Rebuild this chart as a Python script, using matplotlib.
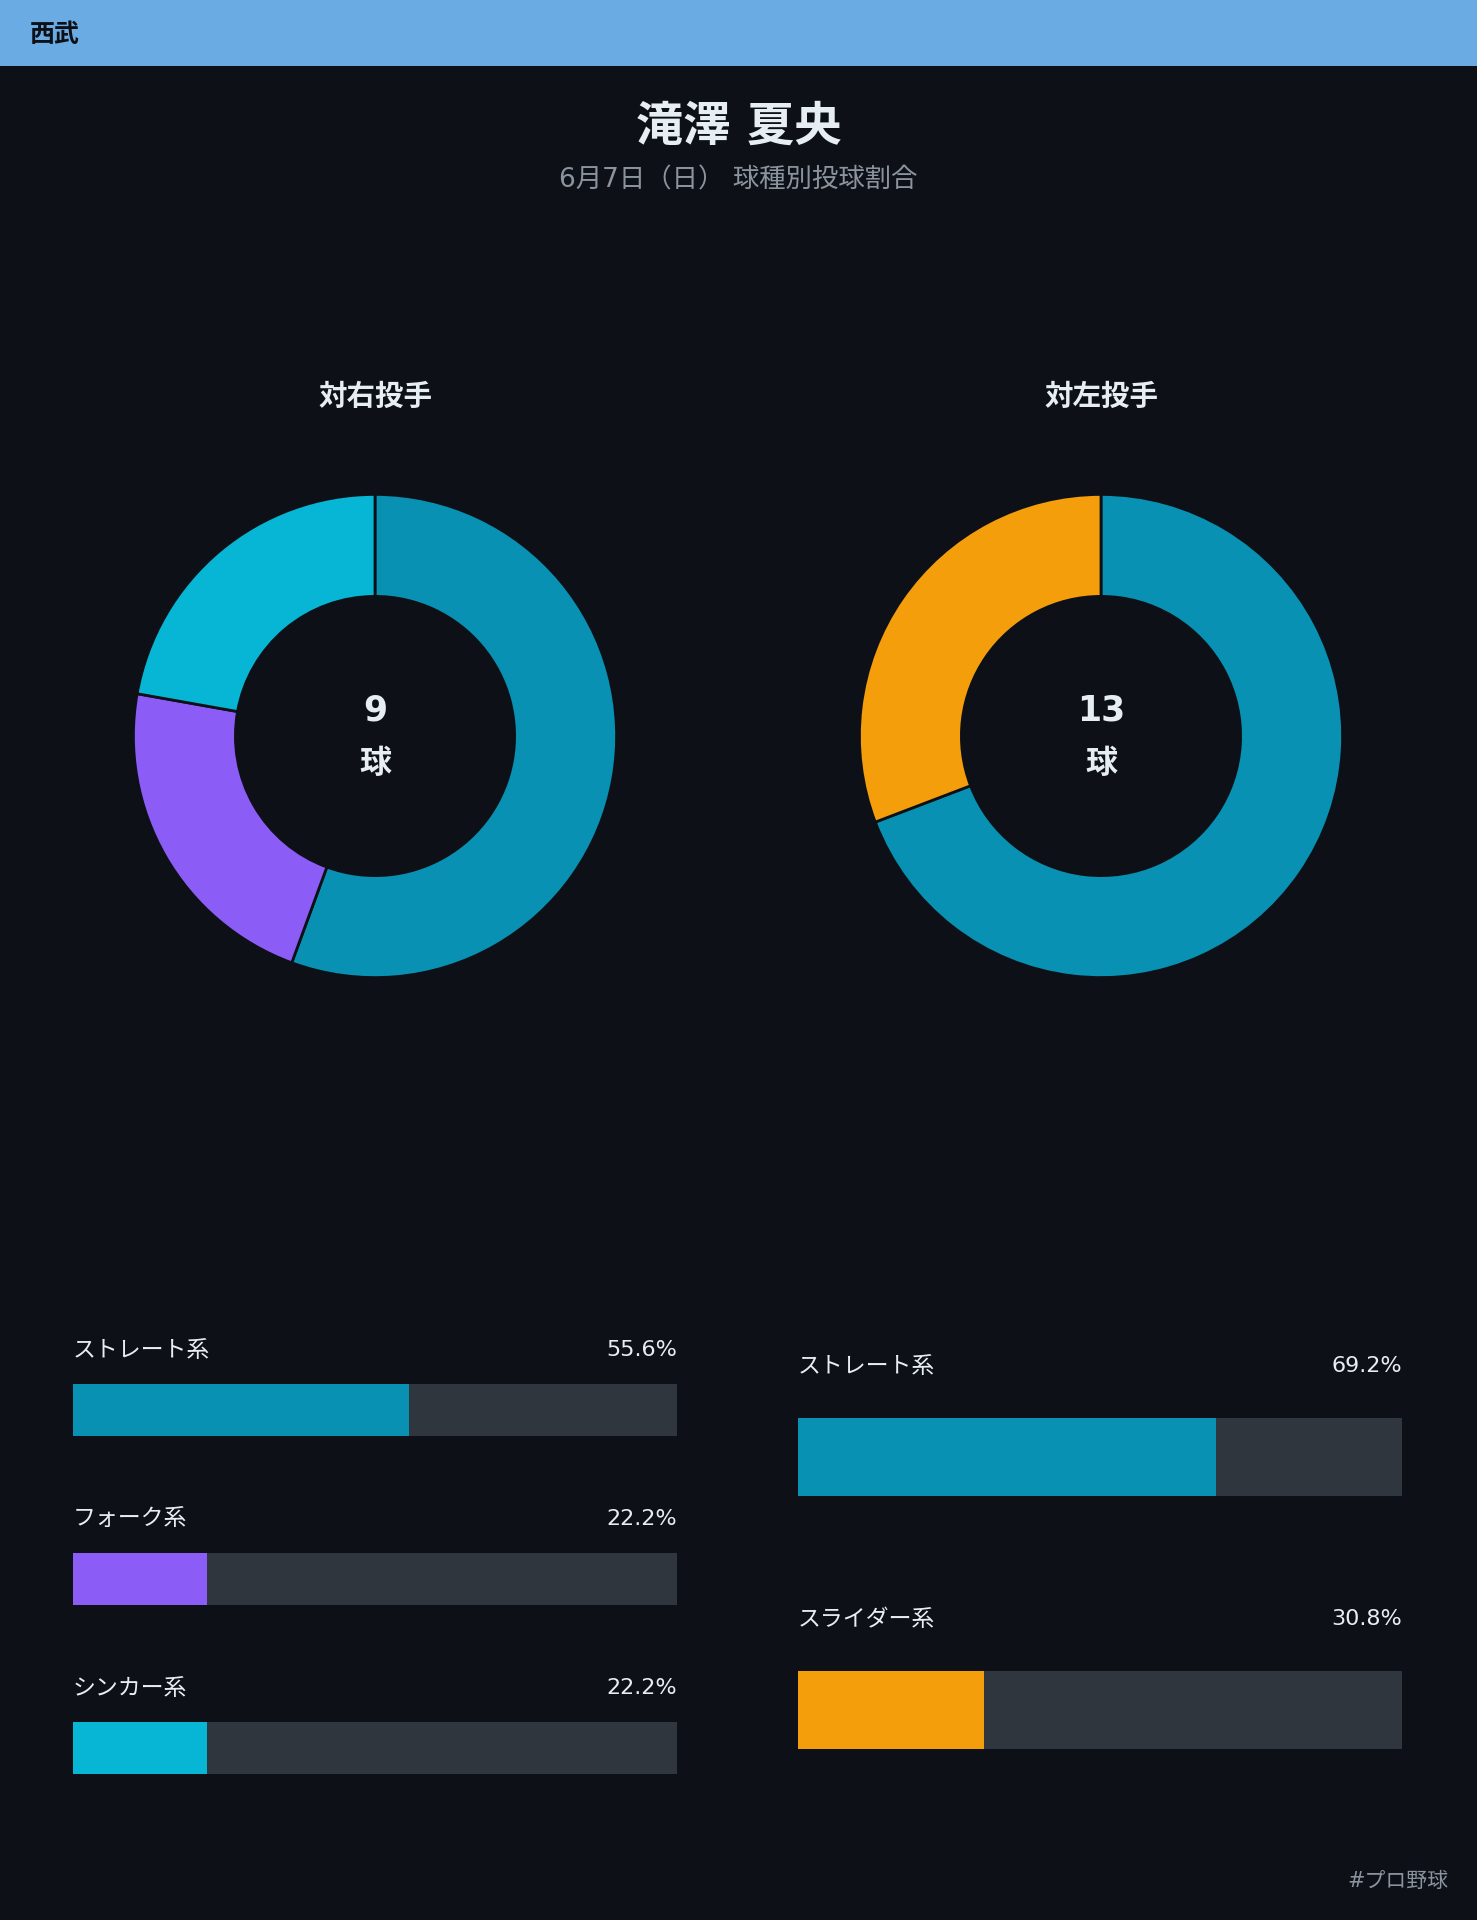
import matplotlib.pyplot as plt
from matplotlib.patches import Rectangle

plt.rcParams['font.family'] = ['DejaVu Sans', 'Noto Sans CJK JP']

W, H = 1477, 1920
BG = '#0d1117'
FG = '#e6edf3'
GRAY = '#8b949e'
TRACK = '#30363d'

team = '西武'
player = '滝澤 夏央'
subtitle = '6月7日（日） 球種別投球割合'
footer = '#プロ野球'

# 対右投手
right_title = '対右投手'
right_total = 9
right_types = ['ストレート系', 'フォーク系', 'シンカー系']
right_pct = [55.6, 22.2, 22.2]
right_colors = ['#0891b2', '#8b5cf6', '#06b6d4']

# 対左投手
left_title = '対左投手'
left_total = 13
left_types = ['ストレート系', 'スライダー系']
left_pct = [69.2, 30.8]
left_colors = ['#0891b2', '#f59e0b']


def fx(x):
    return x / W


def fy(y):
    return 1 - y / H


fig = plt.figure(figsize=(W / 100, H / 100), dpi=100, facecolor=BG)

# header band
fig.patches.append(Rectangle((0, fy(66)), 1, 66 / H, transform=fig.transFigure,
                             facecolor='#6aabe3', edgecolor='none', zorder=0))
fig.text(fx(30), fy(35), team, color='#0d1117', fontsize=18, fontweight='bold',
         ha='left', va='center')

fig.text(0.5, fy(128), player, color=FG, fontsize=34, fontweight='bold',
         ha='center', va='center')
fig.text(0.5, fy(180), subtitle, color=GRAY, fontsize=19, ha='center', va='center')


def donut(cx, cy, r, title, total, pct, colors):
    ax = fig.add_axes([fx(cx - r), fy(cy + r), 2 * r / W, 2 * r / H])
    ax.set_facecolor(BG)
    ax.pie(pct, colors=colors, startangle=90, counterclock=False, radius=1,
           wedgeprops=dict(width=1 - 141 / r, edgecolor=BG, linewidth=2))
    ax.set_xlim(-1.01, 1.01)
    ax.set_ylim(-1.01, 1.01)
    ax.set_aspect('equal')
    ax.axis('off')
    fig.text(fx(cx), fy(397), title, color=FG, fontsize=20.5, fontweight='bold',
             ha='center', va='center')
    fig.text(fx(cx), fy(710), str(total), color=FG, fontsize=25, fontweight='bold',
             ha='center', va='center')
    fig.text(fx(cx), fy(765), '球', color=FG, fontsize=23, fontweight='bold',
             ha='center', va='center')


donut(375, 736, 244, right_title, right_total, right_pct, right_colors)
donut(1101, 736, 244, left_title, left_total, left_pct, left_colors)


def bars(x0, x1, first_center, step, types, pct, colors):
    n = len(types)
    top = first_center - step * 0.5
    bottom = first_center + step * (n - 0.5)
    ax = fig.add_axes([fx(x0), fy(bottom), (x1 - x0) / W, (bottom - top) / H])
    ax.set_facecolor(BG)
    ys = list(range(n))
    ax.barh(ys, [100] * n, height=0.31, color=TRACK, left=0)
    ax.barh(ys, pct, height=0.31, color=colors, left=0)
    off = 0.37 - 3 / step
    for i, (t, p) in enumerate(zip(types, pct)):
        ax.text(0, i - off, t, color=FG, fontsize=16.5, ha='left', va='center')
        ax.text(100, i - off, f'{p:.1f}%', color=FG, fontsize=16, ha='right', va='center')
    ax.set_xlim(0, 100)
    ax.set_ylim(n - 0.5, -0.5)
    ax.axis('off')


bars(73, 677, 1410, 169, right_types, right_pct, right_colors)
bars(798, 1402, 1457, 253, left_types, left_pct, left_colors)

fig.text(fx(1448), fy(1881), footer, color=GRAY, fontsize=15, ha='right', va='center')

fig.savefig('out.png', dpi=100, facecolor=BG)
